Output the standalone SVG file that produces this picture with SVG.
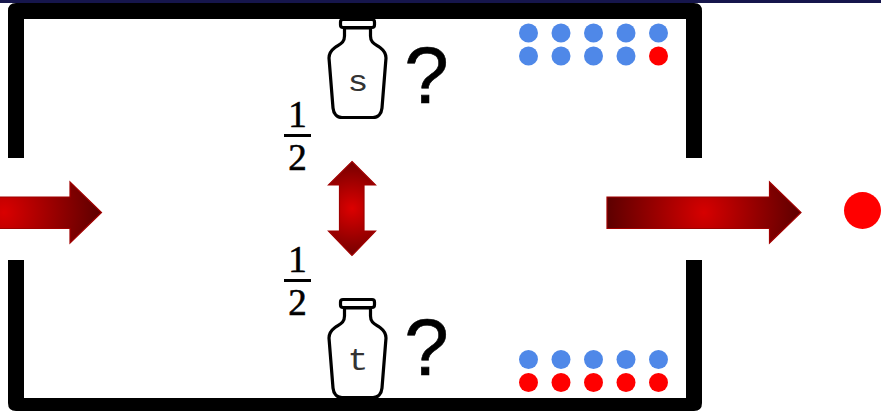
<svg xmlns="http://www.w3.org/2000/svg" xmlns:xlink="http://www.w3.org/1999/xlink" width="881" height="411" viewBox="0 0 881 411">
<style>
.wall{fill:#000}
.bottle{fill:#fff;stroke:#000;stroke-width:3.2;stroke-linejoin:round}
.lbl{font-family:"Liberation Mono",monospace;font-size:29px;text-anchor:middle;fill:#333}
.q{font-family:"Liberation Sans",Arial,sans-serif;font-size:80px;text-anchor:middle;fill:#000;stroke:#000;stroke-width:.6}
.num{font-family:"Liberation Serif","Times New Roman",serif;font-size:37px;text-anchor:middle;fill:#000;stroke:#000;stroke-width:.6}
.b{fill:#4f88e8}
.r{fill:#ff0000}
.arrow{stroke:#a00000;stroke-width:1.2}
</style>
<defs>
<radialGradient id="gIn" gradientUnits="userSpaceOnUse" cx="4" cy="212.5" r="98">
<stop offset="0" stop-color="#d90000"/><stop offset="1" stop-color="#5c0000"/>
</radialGradient>
<radialGradient id="gOut" gradientUnits="userSpaceOnUse" cx="704" cy="212.5" r="98">
<stop offset="0" stop-color="#d60000"/><stop offset="1" stop-color="#5c0000"/>
</radialGradient>
<radialGradient id="gMid" gradientUnits="userSpaceOnUse" cx="352" cy="208.5" r="58">
<stop offset="0" stop-color="#dc0000"/><stop offset="1" stop-color="#5c0000"/>
</radialGradient>
<path id="bottle" class="bottle" d="M344.5 28V36C344.5 43 340 44 335 47.500C331 50.500 329 53 329 58L333 108C333.500 113.500 337 117.500 342 117.500H373C378 117.500 381.500 113.500 382 108L386 58C386 53 384 50.500 380 47.500C375 44 370.500 43 370.500 36V28Z"/>
<rect id="cap" class="bottle" x="340.500" y="19.500" width="34" height="8" rx="2.500"/>
</defs>
<rect width="881" height="411" fill="#fff"/>
<rect width="881" height="3" fill="#16164c"/>
<g id="walls">
<path class="wall" d="M8 158V11Q8 3 16 3H694Q702 3 702 11V158H686V19H24V158Z"/>
<path class="wall" d="M8 260V403Q8 411 16 411H694Q702 411 702 403V260H686V398H24V260Z"/>
</g>
<g id="bottle-s">
<use xlink:href="#bottle" href="#bottle"/>
<use xlink:href="#cap" href="#cap"/>
<text class="lbl" transform="translate(358 90.500) scale(1.2 1)">s</text>
</g>
<g id="bottle-t">
<use xlink:href="#bottle" href="#bottle" y="280"/>
<use xlink:href="#cap" href="#cap" y="280"/>
<text class="lbl" transform="translate(358 370) scale(1.2 1.08)">t</text>
</g>
<path class="wall" d="M16 398H694V411H16Z"/>
<g id="question-s"><text class="q" x="426.500" y="102.500">?</text></g>
<g id="question-t"><text class="q" x="426.500" y="374.500">?</text></g>
<g id="fraction-top">
<text class="num" x="297.500" y="127">1</text>
<rect x="284" y="134" width="27" height="3"/>
<text class="num" x="297.500" y="170">2</text>
</g>
<g id="fraction-bottom">
<text class="num" x="297.500" y="272">1</text>
<rect x="284" y="279" width="27" height="3"/>
<text class="num" x="297.500" y="315">2</text>
</g>
<g id="dots-s">
<circle class="b" cx="528.500" cy="33" r="9.500"/><circle class="b" cx="561" cy="33" r="9.500"/><circle class="b" cx="593.500" cy="33" r="9.500"/><circle class="b" cx="626" cy="33" r="9.500"/><circle class="b" cx="658.500" cy="33" r="9.500"/>
<circle class="b" cx="528.500" cy="56" r="9.500"/><circle class="b" cx="561" cy="56" r="9.500"/><circle class="b" cx="593.500" cy="56" r="9.500"/><circle class="b" cx="626" cy="56" r="9.500"/><circle class="r" cx="658.500" cy="56" r="9.500"/>
</g>
<g id="dots-t">
<circle class="b" cx="528.500" cy="359.500" r="9.500"/><circle class="b" cx="561" cy="359.500" r="9.500"/><circle class="b" cx="593.500" cy="359.500" r="9.500"/><circle class="b" cx="626" cy="359.500" r="9.500"/><circle class="b" cx="658.500" cy="359.500" r="9.500"/>
<circle class="r" cx="528.500" cy="382.500" r="9.500"/><circle class="r" cx="561" cy="382.500" r="9.500"/><circle class="r" cx="593.500" cy="382.500" r="9.500"/><circle class="r" cx="626" cy="382.500" r="9.500"/><circle class="r" cx="658.500" cy="382.500" r="9.500"/>
</g>
<g id="output-dot"><circle class="r" cx="862.500" cy="210.500" r="18.500"/></g>
<g id="connectors">
<path class="arrow" fill="url(#gIn)" d="M-2 197H70V182L101.500 212.500L70 243V228.500H-2Z"/>
<path class="arrow" fill="url(#gOut)" d="M607 197H769.500V182L801 212.500L769.500 243V228.500H607Z"/>
<path class="arrow" fill="url(#gMid)" d="M352 161.500L375.500 185H364V231H375.500L352 255.500L328.500 231H339.500V185H328.500Z"/>
</g>
</svg>
